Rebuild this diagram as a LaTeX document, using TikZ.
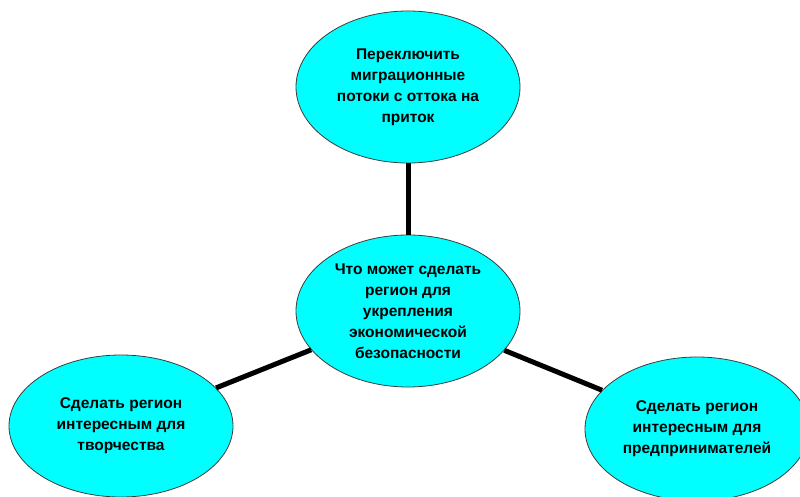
\documentclass[tikz,border=0pt]{standalone}
\usepackage{fontspec}
\setmainfont{Liberation Sans}
\usetikzlibrary{shapes.geometric}
\definecolor{aqua}{RGB}{0,255,255}
\definecolor{rim}{RGB}{60,60,60}
\begin{document}
\begin{tikzpicture}[x=1pt,y=-1pt,
  bubble/.style={ellipse,draw=rim,line width=0.8pt,fill=aqua,inner sep=0pt,
    minimum width=224pt,minimum height=152pt,align=center,
    font=\fontsize{15.5}{21}\selectfont\bfseries},
  link/.style={line width=5pt,black}]
\useasboundingbox (0,0) rectangle (800,497);
\node[bubble] (top) at (408,87) {Переключить\\миграционные\\потоки с оттока на\\приток};
\node[bubble] (mid) at (408,311) {Что может сделать\\регион для\\укрепления\\экономической\\безопасности};
\node[bubble,minimum height=142pt] (left) at (121,426) {Сделать регион\\интересным для\\творчества};
\node[bubble,minimum height=144pt] (right) at (697,429) {Сделать регион\\интересным для\\предпринимателей};
\draw[link] (top) -- (mid);
\draw[link] (mid) -- (left);
\draw[link] (mid) -- (right);
\end{tikzpicture}
\end{document}
